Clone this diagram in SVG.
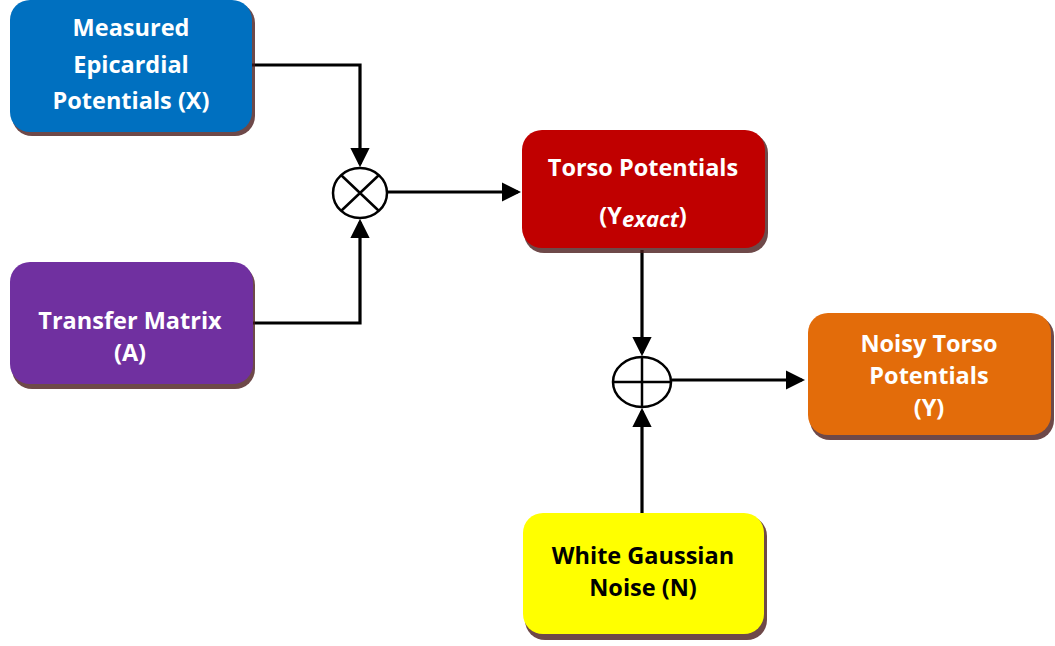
<svg xmlns="http://www.w3.org/2000/svg" width="1055" height="646" viewBox="0 0 1055 646">
<style>
.box{stroke:none}
.sh{fill:#4a1c1c;opacity:0.8}
.t{font-family:"Open Sans","Liberation Sans",sans-serif;font-weight:bold;font-size:23.5px;text-anchor:middle;fill:#ffffff}
.tk{fill:#000000}
.c{fill:none;stroke:#000;stroke-width:3.2}
.op{fill:#fff;stroke:#000;stroke-width:2.5}
</style>
<defs>
<marker id="ah" markerWidth="6" markerHeight="6" refX="5" refY="3" orient="auto" markerUnits="strokeWidth">
<path d="M0,0 L6,3 L0,6 z" fill="#000"/>
</marker>
</defs>
<rect width="1055" height="646" fill="#fff"/>
<g id="connectors">
<path class="c" d="M252,65 H360 V164" marker-end="url(#ah)"/>
<path class="c" d="M253,323 H360 V222" marker-end="url(#ah)"/>
<path class="c" d="M388,192 H518" marker-end="url(#ah)"/>
<path class="c" d="M642,250 V353" marker-end="url(#ah)"/>
<path class="c" d="M672,380 H802" marker-end="url(#ah)"/>
<path class="c" d="M642,513 V411" marker-end="url(#ah)"/>
</g>
<g id="mult">
<ellipse class="op" cx="360" cy="193" rx="27" ry="25"/>
<path d="M341,175 L379,211 M379,175 L341,211" stroke="#000" stroke-width="2.5"/>
</g>
<g id="sum">
<ellipse class="op" cx="642" cy="382" rx="29" ry="25"/>
<path d="M613,382 H671 M642,357 V407" stroke="#000" stroke-width="2.5"/>
</g>
<g id="epicardial">
<rect class="sh" x="12" y="3" width="243" height="133" rx="20"/>
<rect class="box" x="10" y="0" width="242" height="132" rx="20" fill="#0070C0"/>
<text class="t" x="131" y="36">Measured</text>
<text class="t" x="131" y="73">Epicardial</text>
<text class="t" x="131" y="109">Potentials (X)</text>
</g>
<g id="transfer">
<rect class="sh" x="12" y="265" width="243" height="124" rx="20"/>
<rect class="box" x="10" y="262" width="243" height="122" rx="20" fill="#7030A0"/>
<text class="t" x="130" y="329">Transfer Matrix</text>
<text class="t" x="130" y="361">(A)</text>
</g>
<g id="torso">
<rect class="sh" x="524" y="133" width="244" height="120" rx="20"/>
<rect class="box" x="522" y="130" width="243" height="118" rx="20" fill="#C00000"/>
<text class="t" x="643" y="176">Torso Potentials</text>
<text class="t" x="643" y="224">(Y<tspan font-style="italic" font-size="22" dy="3">exact</tspan><tspan dy="-3">)</tspan></text>
</g>
<g id="noisy">
<rect class="sh" x="810" y="316" width="244" height="124" rx="20"/>
<rect class="box" x="808" y="313" width="243" height="122" rx="20" fill="#E36C0A"/>
<text class="t" x="929" y="352">Noisy Torso</text>
<text class="t" x="929" y="384">Potentials</text>
<text class="t" x="929" y="416">(Y)</text>
</g>
<g id="noise">
<rect class="sh" x="525" y="516" width="242" height="124" rx="20"/>
<rect class="box" x="523" y="513" width="241" height="121" rx="20" fill="#FFFF00"/>
<text class="t tk" x="643" y="564">White Gaussian</text>
<text class="t tk" x="643" y="596">Noise (N)</text>
</g>
</svg>
